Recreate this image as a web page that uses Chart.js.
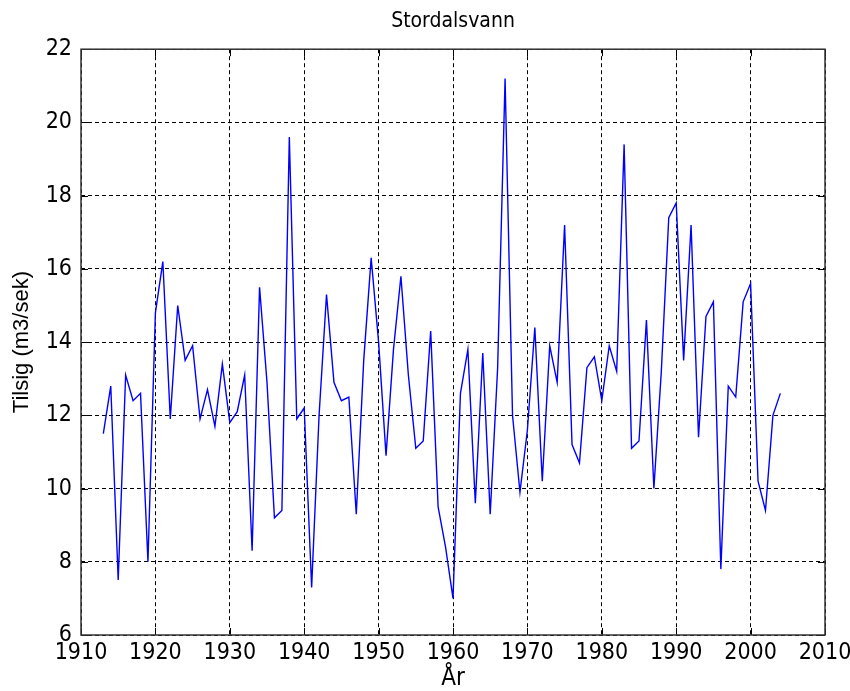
<!DOCTYPE html>
<html>
<head>
<meta charset="utf-8">
<script src="https://cdn.jsdelivr.net/npm/chart.js@4.4.0/dist/chart.umd.min.js"></script>
<style>
  html, body { margin: 0; padding: 0; background: #fff; }
  #wrap { width: 850px; height: 691px; }
</style>
</head>
<body>
<div id="wrap"><canvas id="chart"></canvas></div>
<script>
const years = [
    1913, 1914, 1915, 1916, 1917, 1918, 1919, 1920, 1921, 1922,
    1923, 1924, 1925, 1926, 1927, 1928, 1929, 1930, 1931, 1932,
    1933, 1934, 1935, 1936, 1937, 1938, 1939, 1940, 1941, 1942,
    1943, 1944, 1945, 1946, 1947, 1948, 1949, 1950, 1951, 1952,
    1953, 1954, 1955, 1956, 1957, 1958, 1959, 1960, 1961, 1962,
    1963, 1964, 1965, 1966, 1967, 1968, 1969, 1970, 1971, 1972,
    1973, 1974, 1975, 1976, 1977, 1978, 1979, 1980, 1981, 1982,
    1983, 1984, 1985, 1986, 1987, 1988, 1989, 1990, 1991, 1992,
    1993, 1994, 1995, 1996, 1997, 1998, 1999, 2000, 2001, 2002,
    2003, 2004
];

// Tilsig (m3/sek)
const tilsig = [
    11.5, 12.8, 7.5, 13.1, 12.4, 12.6, 8.0, 14.8, 16.2, 11.9,
    15.0, 13.5, 13.9, 11.9, 12.7, 11.7, 13.4, 11.8, 12.1, 13.1,
    8.3, 15.5, 12.9, 9.2, 9.4, 19.6, 11.9, 12.2, 7.3, 12.0,
    15.3, 12.9, 12.4, 12.5, 9.3, 13.5, 16.3, 14.0, 10.9, 13.8,
    15.8, 13.1, 11.1, 11.3, 14.3, 9.5, 8.4, 7.0, 12.6, 13.8,
    9.6, 13.7, 9.3, 13.3, 21.2, 12.0, 9.9, 11.6, 14.4, 10.2,
    13.9, 12.9, 17.2, 11.2, 10.7, 13.3, 13.6, 12.4, 13.9, 13.2,
    19.4, 11.1, 11.3, 14.6, 10.0, 13.2, 17.4, 17.8, 13.5, 17.2,
    11.4, 14.7, 15.1, 7.8, 12.8, 12.5, 15.1, 15.6, 10.2, 9.4,
    12.0, 12.6
];

const xTicks = [1910, 1920, 1930, 1940, 1950, 1960, 1970, 1980, 1990, 2000, 2010];
const yTicks = [6, 8, 10, 12, 14, 16, 18, 20, 22];

const narrow = "'Liberation Sans Narrow', 'DejaVu Sans Condensed', 'Liberation Sans', sans-serif";

// solid box round the plot and short inward ticks on all four sides, like matlab
const boxPlugin = {
    id: 'box',
    afterDraw(chart) {
        const { ctx, chartArea: a, scales } = chart;
        ctx.save();
        ctx.strokeStyle = '#000';
        ctx.lineWidth = 1;
        ctx.beginPath();
        xTicks.forEach(t => {
            const x = Math.round(scales.x.getPixelForValue(t)) + 0.5;
            ctx.moveTo(x, a.bottom); ctx.lineTo(x, a.bottom - 7);
            ctx.moveTo(x, a.top); ctx.lineTo(x, a.top + 7);
        });
        yTicks.forEach(t => {
            const y = Math.round(scales.y.getPixelForValue(t)) + 0.5;
            ctx.moveTo(a.left, y); ctx.lineTo(a.left + 7, y);
            ctx.moveTo(a.right, y); ctx.lineTo(a.right - 7, y);
        });
        ctx.stroke();
        ctx.strokeStyle = '#333';
        ctx.lineWidth = 1.5;
        ctx.strokeRect(a.left, a.top, a.right - a.left, a.bottom - a.top);
        ctx.restore();
    }
};

const ctx = document.getElementById('chart').getContext('2d');
const chart = new Chart(ctx, {
    type: 'line',
    data: {
        datasets: [{
            data: years.map((y, i) => ({ x: y, y: tilsig[i] })),
            borderColor: '#0000ff',
            borderWidth: 1.4,
            pointRadius: 0,
            tension: 0,
            fill: false
        }]
    },
    options: {
        responsive: true,
        maintainAspectRatio: false,
        animation: false,
        layout: { padding: { left: 0, right: 0, top: 0, bottom: 0 } },
        plugins: {
            legend: { display: false },
            tooltip: { enabled: false },
            title: {
                display: true,
                fullSize: false,
                text: 'Stordalsvann',
                color: '#000',
                font: { family: narrow, size: 21, weight: 'normal', lineHeight: 1.2 },
                padding: { top: 9, bottom: 15 }
            }
        },
        scales: {
            x: {
                type: 'linear',
                min: 1910,
                max: 2010,
                afterBuildTicks: s => { s.ticks = xTicks.map(v => ({ value: v })); },
                afterFit: s => { s.height = 56; s.paddingRight = 25; s.paddingLeft = 0; },
                ticks: {
                    color: '#000',
                    padding: 4,
                    maxRotation: 0,
                    font: { family: narrow, size: 23 },
                    callback: v => String(v)
                },
                grid: { color: '#000', lineWidth: 1, drawTicks: false },
                border: { display: false, dash: [4, 3] },
                title: {
                    display: true,
                    text: 'År',
                    color: '#000',
                    font: { family: narrow, size: 24, lineHeight: 1.0 },
                    padding: { top: 0, bottom: 0 }
                }
            },
            y: {
                min: 6,
                max: 22,
                afterBuildTicks: s => { s.ticks = yTicks.map(v => ({ value: v })); },
                afterFit: s => { s.width = 81; },
                ticks: {
                    color: '#000',
                    padding: 9,
                    font: { family: narrow, size: 23 }
                },
                grid: { color: '#000', lineWidth: 1, drawTicks: false },
                border: { display: false, dash: [4, 3] },
                title: {
                    display: true,
                    text: 'Tilsig (m3/sek)',
                    color: '#000',
                    font: { family: "'Liberation Sans', Arial, sans-serif", size: 22, lineHeight: 1.2 },
                    padding: { top: 9, bottom: 0 }
                }
            }
        }
    },
    plugins: [boxPlugin]
});
</script>
</body>
</html>
